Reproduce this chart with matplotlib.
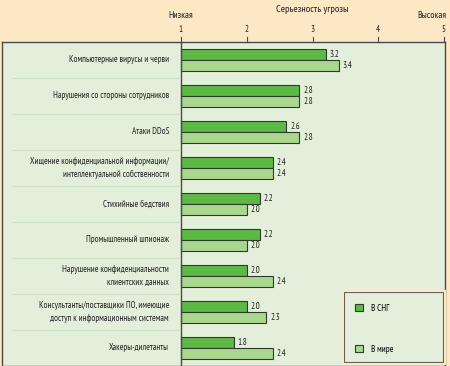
import numpy as np
import matplotlib.pyplot as plt
from matplotlib.patches import Rectangle

categories = [
    "Компьютерные вирусы и черви",
    "Нарушения со стороны сотрудников",
    "Атаки DDoS",
    "Хищение конфиденциальной информации/\nинтеллектуальной собственности",
    "Стихийные бедствия",
    "Промышленный шпионаж",
    "Нарушение конфиденциальности\nклиентских данных",
    "Консультанты/поставщики ПО, имеющие\nдоступ к информационным системам",
    "Хакеры-дилетанты",
]
cis = [3.2, 2.8, 2.6, 2.4, 2.2, 2.2, 2.0, 2.0, 1.8]
world = [3.4, 2.8, 2.8, 2.4, 2.0, 2.0, 2.4, 2.3, 2.4]
ticks = [1, 2, 3, 4, 5]

W, H = 450, 366
PEACH = "#fde8c6"
BG = "#e3efda"
DARK = "#5cb946"
LIGHT = "#a9d78e"
EDGE = "#2f3a2c"
TXT = "#222222"
FS = 6.5

plt.rcParams['font.family'] = ['PT Sans Narrow', 'DejaVu Sans']

fig = plt.figure(figsize=(W / 100, H / 100), dpi=100)
fig.patch.set_facecolor(PEACH)

def fx(px):
    return px / W

def fy(py):
    return 1 - py / H

# panel
left, right, top, bottom = 2, 445, 42, 366
ax = fig.add_axes([fx(left), fy(bottom), fx(right - left), fy(top) - fy(bottom)])
ax.set_facecolor(BG)
unit = (444 - 181) / 4.0
ax.set_xlim(1 - (181 - left) / unit, 5 + (right - 444) / unit)
n = len(categories)
ax.set_ylim(n - 0.5, -0.5)
for s in ax.spines.values():
    s.set_color("#4a4a4a")
    s.set_linewidth(1.0)
ax.set_xticks([])
ax.set_yticks([])

y = np.arange(n)
bh = 11 / 36.0
b1 = ax.barh(y - bh / 2, np.array(cis) - 1, left=1, height=bh, color=DARK, edgecolor=EDGE, linewidth=0.8)
b2 = ax.barh(y + bh / 2, np.array(world) - 1, left=1, height=bh, color=LIGHT, edgecolor=EDGE, linewidth=0.8)
ax.axvline(1, color="#4a4a4a", linewidth=1.0, zorder=3)

for i in range(n):
    ax.text(cis[i] + 0.06, i - bh / 2, f"{cis[i]:.1f}", fontsize=FS, va="center", ha="left", color=TXT)
    ax.text(world[i] + 0.06, i + bh / 2, f"{world[i]:.1f}", fontsize=FS, va="center", ha="left", color=TXT)
    ax.text(1 - 12 / unit, i, categories[i], fontsize=FS, va="center", ha="right",
            color=TXT, linespacing=1.45, zorder=4)
    if i > 0:
        ax.plot([1 - 169 / unit, 1 - 1 / unit], [i - 0.5, i - 0.5], color="#cde2c5", linewidth=0.8, zorder=3)

# top scale
for t in ticks:
    xp = 181 + (t - 1) * unit
    fig.text(fx(xp), fy(29), str(t), fontsize=FS, ha="center", va="center", color=TXT)
    fig.add_artist(plt.Line2D([fx(xp), fx(xp)], [fy(42), fy(37)], color="#4a4a4a", linewidth=0.8))
fig.text(fx(181), fy(16), "Низкая", fontsize=FS + 0.5, ha="center", va="center", color=TXT)
fig.text(fx(446), fy(16), "Высокая", fontsize=FS + 0.5, ha="right", va="center", color=TXT)
fig.text(fx(312), fy(10), "Серьезность угрозы", fontsize=FS + 1, ha="center", va="center", color=TXT)

# legend box
fig.add_artist(Rectangle((fx(344), fy(362)), fx(99), fy(292) - fy(362), facecolor=BG,
                         edgecolor="#5a5a5a", linewidth=0.8, zorder=5))
fig.add_artist(Rectangle((fx(342.5), fy(363.5)), fx(102), fy(290.5) - fy(363.5), facecolor="none",
                         edgecolor=PEACH, linewidth=1.5, zorder=5))
leg = fig.legend([b1, b2], ["В СНГ", "В мире"], loc="upper left",
                 bbox_to_anchor=(fx(351), fy(300)), bbox_transform=fig.transFigure,
                 fontsize=FS, frameon=False, handlelength=0.9, handleheight=0.9, labelspacing=3.55,
                 borderpad=0.4, handletextpad=0.9, borderaxespad=0)
leg.set_zorder(6)

fig.savefig("out.png", dpi=100, facecolor=PEACH)
